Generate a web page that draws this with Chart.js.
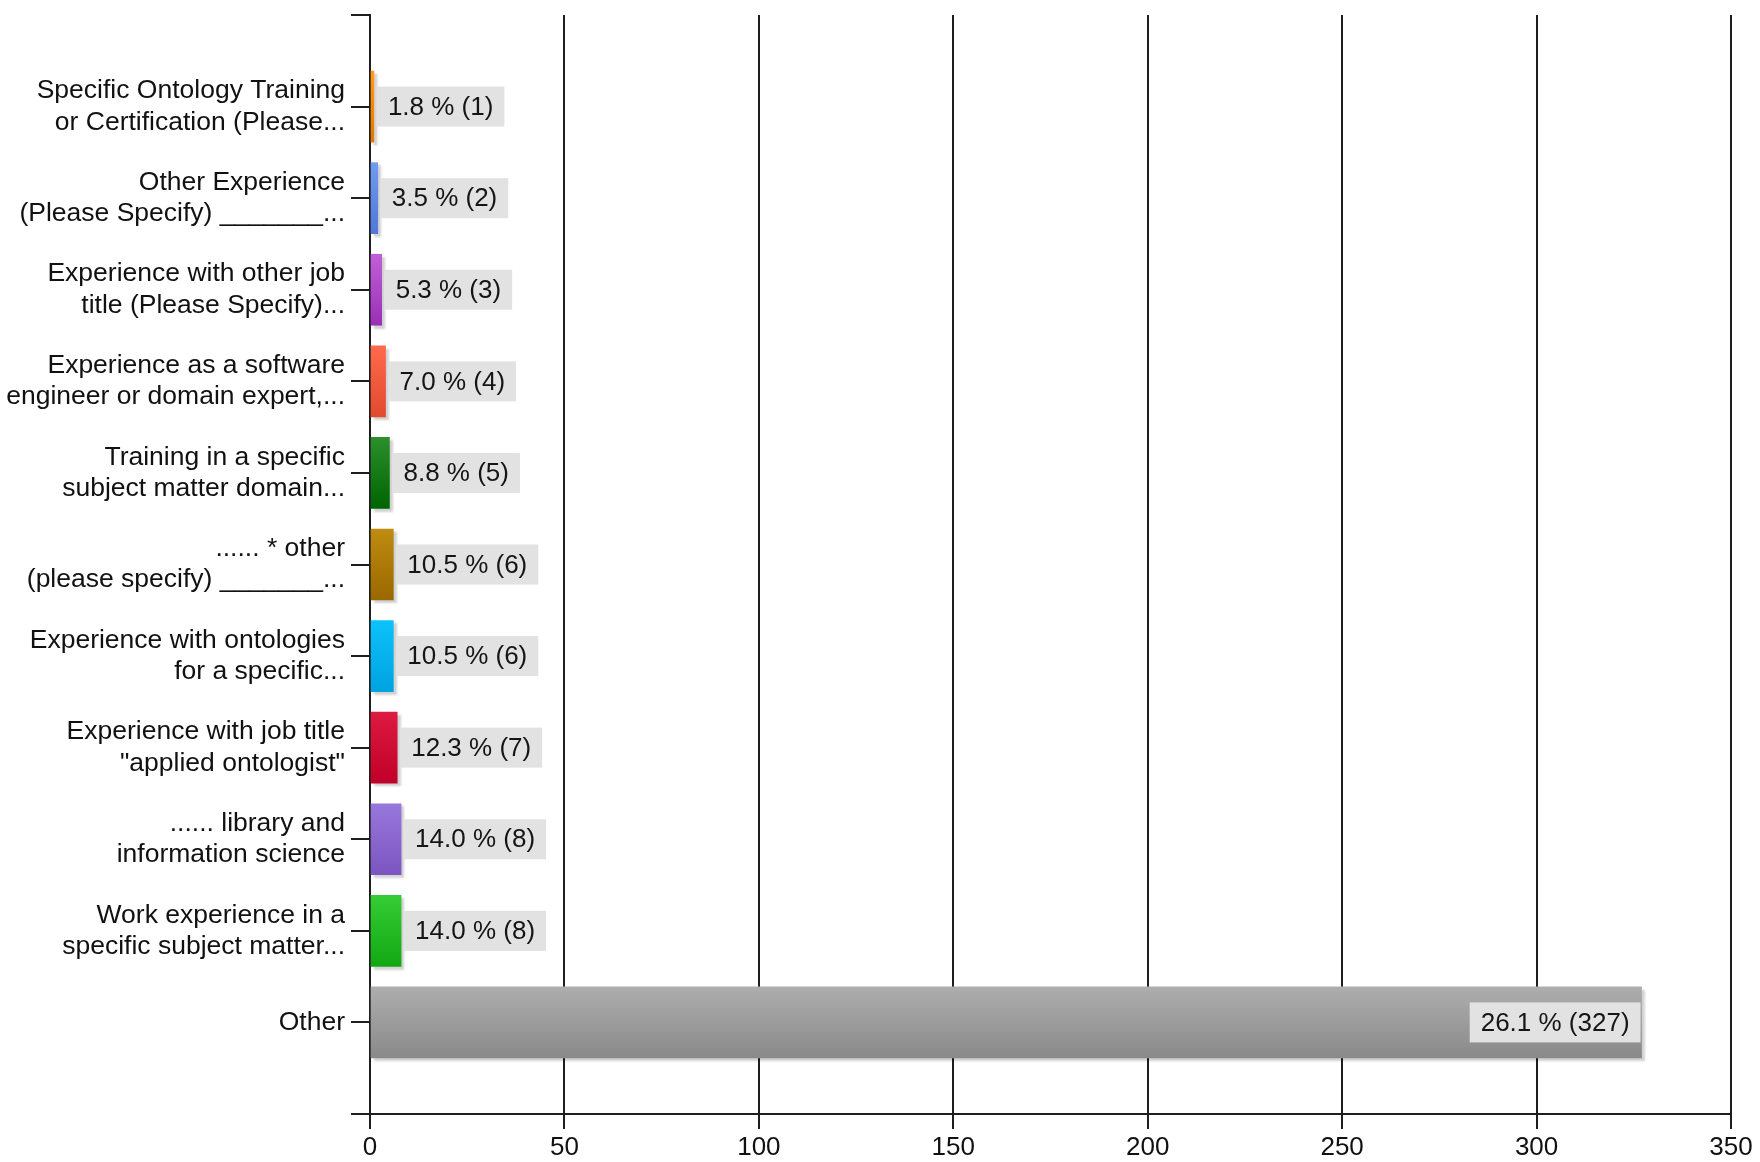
<!DOCTYPE html>
<html>
<head>
<meta charset="utf-8">
<script src="https://cdn.jsdelivr.net/npm/chart.js@4.4.1/dist/chart.umd.min.js"></script>
<style>
  html, body { margin: 0; padding: 0; background: #fff; }
  #wrap { width: 1760px; height: 1162px; position: relative; }
</style>
</head>
<body>
<div id="wrap"><canvas id="grafica"></canvas></div>
<script>
"use strict";

const categories = [
    ["Specific Ontology Training", "or Certification (Please..."],
    ["Other Experience", "(Please Specify) _______..."],
    ["Experience with other job", "title (Please Specify)..."],
    ["Experience as a software", "engineer or domain expert,..."],
    ["Training in a specific", "subject matter domain..."],
    ["...... * other", "(please specify) _______..."],
    ["Experience with ontologies", "for a specific..."],
    ["Experience with job title", "\"applied ontologist\""],
    ["...... library and", "information science"],
    ["Work experience in a", "specific subject matter..."],
    "Other"
];
const counts   = [1, 2, 3, 4, 5, 6, 6, 7, 8, 8, 327];
const percents = [1.8, 3.5, 5.3, 7.0, 8.8, 10.5, 10.5, 12.3, 14.0, 14.0, 26.1];
const xTickValues = [0, 50, 100, 150, 200, 250, 300, 350];

// colores: arriba claro, abajo oscuro
const colorTop    = ["#ff9a1a", "#6f9cf0", "#c060d8", "#ff6a4c", "#2b8f2b", "#bf8c10", "#0cc2fb", "#dd1a40", "#9878dc", "#35cc35", "#adadad"];
const colorBottom = ["#e07800", "#4f78d8", "#9a30b4", "#e04a2e", "#006400", "#9a6800", "#00a2e0", "#c0002a", "#7b55c0", "#13a813", "#8a8a8a"];

const fontFamily = "'Liberation Sans', Arial, sans-serif";
const axisColor = "#1e1e1e";
const barThick = 71;

const canvas = document.getElementById("grafica").getContext("2d");

const barPoints = counts.map((c, i) => ({ x: c, y: i + 1 }));

const sombraPlugin = {
    id: "sombra",
    beforeDatasetsDraw(chart) {
        const ctx = chart.ctx;
        ctx.save();
        ctx.shadowColor = "rgba(0,0,0,0.18)";
        ctx.shadowOffsetX = 3;
        ctx.shadowOffsetY = 3;
        ctx.shadowBlur = 2;
    },
    afterDatasetsDraw(chart) {
        const ctx = chart.ctx;
        ctx.restore();

        const meta = chart.getDatasetMeta(0);
        const area = chart.chartArea;
        ctx.save();
        ctx.font = "26px " + fontFamily;
        ctx.textBaseline = "middle";
        meta.data.forEach((bar, i) => {
            const texto = percents[i].toFixed(1) + " % (" + counts[i] + ")";
            const w = ctx.measureText(texto).width + 22;
            const h = 40;
            let left = bar.x + 3;
            if (left + w > area.right) left = bar.x - 1 - w;
            ctx.fillStyle = "#e2e2e2";
            ctx.fillRect(left, bar.y - h / 2, w, h);
            ctx.fillStyle = "#151515";
            ctx.textAlign = "left";
            ctx.fillText(texto, left + 11, bar.y + 1);
        });
        ctx.restore();
    }
};

new Chart(canvas, {
    type: "bar",
    data: {
        datasets: [{
            data: barPoints,
            backgroundColor: function (ctx) {
                const chart = ctx.chart;
                const i = ctx.dataIndex;
                if (ctx.type !== "data" || !chart.scales.y) return colorTop[i] || "#999";
                const cy = chart.scales.y.getPixelForValue(i + 1);
                if (!isFinite(cy)) return colorTop[i];
                const g = chart.ctx.createLinearGradient(0, cy - barThick / 2, 0, cy + barThick / 2);
                g.addColorStop(0, colorTop[i]);
                g.addColorStop(1, colorBottom[i]);
                return g;
            },
            borderWidth: 0,
            borderSkipped: false,
            barThickness: barThick
        }]
    },
    options: {
        indexAxis: "y",
        responsive: true,
        maintainAspectRatio: false,
        animation: false,
        layout: { padding: { top: 15, right: 29, bottom: 0, left: 0 } },
        plugins: {
            legend: { display: false },
            tooltip: { enabled: false }
        },
        scales: {
            x: {
                type: "linear",
                min: 0,
                max: 350,
                afterBuildTicks: function (scale) {
                    scale.ticks = xTickValues.map(v => ({ value: v }));
                },
                afterFit: function (scale) { scale.height = 48; },
                grid: {
                    color: axisColor,
                    lineWidth: 2,
                    drawTicks: true,
                    tickLength: 15,
                    tickColor: axisColor
                },
                border: { display: true, color: axisColor, width: 2 },
                ticks: {
                    color: "#111",
                    padding: 3,
                    maxRotation: 0,
                    font: { family: fontFamily, size: 26 }
                }
            },
            y: {
                type: "linear",
                reverse: true,
                offset: false,
                min: 0,
                max: 12,
                afterBuildTicks: function (scale) {
                    const t = [];
                    for (let v = 0; v <= categories.length + 1; v++) t.push({ value: v });
                    scale.ticks = t;
                },
                afterFit: function (scale) {
                    scale.width = 370;
                    scale.paddingTop = 0;
                    scale.paddingBottom = 0;
                },
                grid: {
                    offset: false,
                    drawOnChartArea: false,
                    drawTicks: true,
                    tickLength: 19,
                    color: axisColor,
                    lineWidth: 2
                },
                border: { display: true, color: axisColor, width: 2 },
                ticks: {
                    color: "#111",
                    padding: 6,
                    autoSkip: false,
                    font: { family: fontFamily, size: 26.5, lineHeight: 1.18 },
                    callback: function (v) {
                        return categories[v - 1] || "";
                    }
                }
            }
        }
    },
    plugins: [sombraPlugin]
});
</script>
</body>
</html>
